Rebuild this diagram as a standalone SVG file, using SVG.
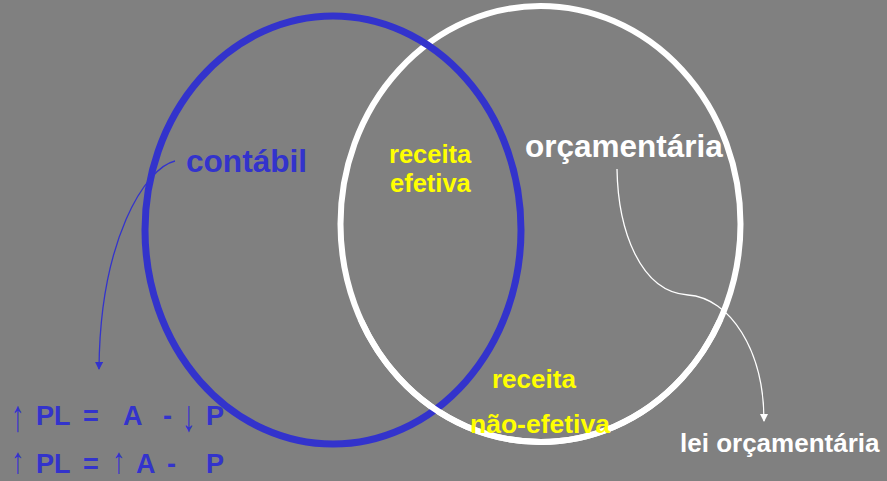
<svg xmlns="http://www.w3.org/2000/svg" width="887" height="481" viewBox="0 0 887 481">
<style>
.t{font-family:"Liberation Sans",Arial,sans-serif;font-weight:bold}
.blue{fill:#3333cc}
.white{fill:#ffffff}
.yellow{fill:#ffff00}
.arr{font-family:"Liberation Sans",Arial,sans-serif;font-weight:normal;fill:#3333cc;font-size:27px}
</style>
<defs>
<marker id="ab" markerWidth="8" markerHeight="8" refX="7" refY="4" orient="auto" markerUnits="userSpaceOnUse">
<path d="M0,0 L8,4 L0,8 Z" fill="#3333cc"/>
</marker>
<marker id="aw" markerWidth="8" markerHeight="8" refX="7" refY="4" orient="auto" markerUnits="userSpaceOnUse">
<path d="M0,0 L8,4 L0,8 Z" fill="#ffffff"/>
</marker>
<clipPath id="low"><rect x="0" y="320" width="887" height="161"/></clipPath>
</defs>
<rect width="887" height="481" fill="#808080"/>
<g id="orcamentaria">
<ellipse cx="540.5" cy="224" rx="200" ry="218" fill="none" stroke="#ffffff" stroke-width="6"/>
</g>
<g id="contabil">
<ellipse cx="333" cy="230" rx="188" ry="214" fill="none" stroke="#3333cc" stroke-width="7"/>
</g>
<g id="orcamentaria-front">
<ellipse cx="540.5" cy="224" rx="200" ry="218" fill="none" stroke="#ffffff" stroke-width="6" clip-path="url(#low)"/>
</g>
<g id="connectors" fill="none">
<path d="M175,161 C145,168 100,240 99,369" stroke="#3333cc" stroke-width="1.3" marker-end="url(#ab)"/>
<path d="M617,169 C618,230 640,292 688,295 C730,298 764,350 764,421" stroke="#ffffff" stroke-width="1.3" marker-end="url(#aw)"/>
</g>
<g id="labels">
<text class="t blue" x="186" y="172" font-size="31.6">contábil</text>
<text class="t white" x="525" y="157" font-size="31.5">orçamentária</text>
<text class="t yellow" x="389" y="163" font-size="25.5">receita</text>
<text class="t yellow" x="390" y="192" font-size="25.5">efetiva</text>
<text class="t yellow" x="492" y="388" font-size="26">receita</text>
<text class="t yellow" x="470" y="433" font-size="26.5">não-efetiva</text>
<text class="t white" x="680" y="452" font-size="26">lei orçamentária</text>
</g>
<g id="equations">
<text class="arr" transform="translate(11,431) scale(1,1.65)">↑</text>
<text class="t blue" x="36" y="425" font-size="27">PL</text>
<text class="t blue" x="83" y="425" font-size="27">=</text>
<text class="t blue" x="123" y="425" font-size="27">A</text>
<text class="t blue" x="163" y="425" font-size="27">-</text>
<text class="arr" transform="translate(182,431) scale(1,1.65)">↓</text>
<text class="t blue" x="206" y="425" font-size="27">P</text>
<text class="arr" transform="translate(11,473) scale(1,1.35)">↑</text>
<text class="t blue" x="36" y="473" font-size="27">PL</text>
<text class="t blue" x="83" y="473" font-size="27">=</text>
<text class="arr" transform="translate(112,473) scale(1,1.35)">↑</text>
<text class="t blue" x="136" y="473" font-size="27">A</text>
<text class="t blue" x="167" y="473" font-size="27">-</text>
<text class="t blue" x="206" y="473" font-size="27">P</text>
</g>
</svg>
